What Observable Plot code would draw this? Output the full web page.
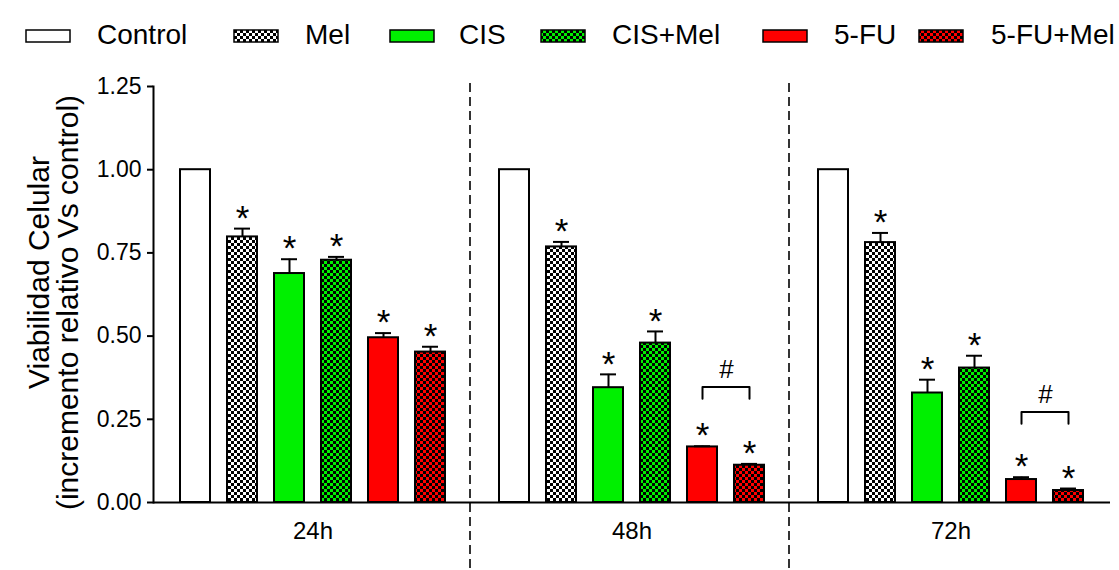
<!DOCTYPE html>
<html><head><meta charset="utf-8">
<script src="https://cdn.jsdelivr.net/npm/d3@7"></script>
<script src="https://cdn.jsdelivr.net/npm/@observablehq/plot@0.6"></script>
<style>
body{margin:0;background:#fff;font-family:"Liberation Sans",Arial,Helvetica,sans-serif;}
#wrap{position:relative;width:1119px;height:570px;overflow:hidden;}
#legend{position:absolute;left:0;top:0;}
#chart{position:absolute;left:0;top:60px;}
#chart svg{overflow:visible;}
</style></head><body>
<svg width="0" height="0" style="position:absolute">
  <defs>
    <pattern id="chkW" width="6" height="6" patternUnits="userSpaceOnUse">
      <rect width="6" height="6" fill="#ffffff"/><rect width="3" height="3" fill="#000"/><rect x="3" y="3" width="3" height="3" fill="#000"/>
    </pattern>
    <pattern id="chkG" width="6" height="6" patternUnits="userSpaceOnUse">
      <rect width="6" height="6" fill="#00f000"/><rect width="3" height="3" fill="#000"/><rect x="3" y="3" width="3" height="3" fill="#000"/>
    </pattern>
    <pattern id="chkR" width="6" height="6" patternUnits="userSpaceOnUse">
      <rect width="6" height="6" fill="#ff0000"/><rect width="3" height="3" fill="#000"/><rect x="3" y="3" width="3" height="3" fill="#000"/>
    </pattern>
  </defs>
</svg>
<div id="wrap"><div id="legend"></div><div id="chart"></div></div>
<script>
// ---- data ----
const times = ["24h", "48h", "72h"];
const groups = ["Control", "Mel", "CIS", "CIS+Mel", "5-FU", "5-FU+Mel"];
const values24 = [1.00, 0.798, 0.688, 0.728, 0.495, 0.452];
const values48 = [1.00, 0.768, 0.345, 0.479, 0.167, 0.112];
const values72 = [1.00, 0.781, 0.329, 0.404, 0.069, 0.036];
const errors24 = [0, 0.025, 0.043, 0.010, 0.014, 0.016];
const errors48 = [0, 0.015, 0.040, 0.035, 0.002, 0.004];
const errors72 = [0, 0.029, 0.040, 0.037, 0.007, 0.006];
const significant = [false, true, true, true, true, true];
const hashTimes = ["48h", "72h"];
const hashPair = ["5-FU", "5-FU+Mel"];
const bracketTop = [0.347, 0.272];
const bracketLeg = [0.312, 0.237];
const yTicks = [0, 0.25, 0.50, 0.75, 1.00, 1.25];
const fills = ["#ffffff", "url(#chkW)", "#00f000", "url(#chkG)", "#ff0000", "url(#chkR)"];
const yTitle = ["Viabilidad Celular", "(incremento relativo Vs control)"];

// ---- build table ----
const valuesByTime = [values24, values48, values72];
const errorsByTime = [errors24, errors48, errors72];
const rows = [];
times.forEach((t, i) => groups.forEach((g, j) => {
  rows.push({time: t, group: g, value: valuesByTime[i][j], hi: valuesByTime[i][j] + errorsByTime[i][j],
             err: errorsByTime[i][j], sig: significant[j]});
}));
const bracketPts = [];
hashTimes.forEach((t, i) => {
  bracketPts.push({time: t, group: hashPair[0], y: bracketLeg[i]});
  bracketPts.push({time: t, group: hashPair[0], y: bracketTop[i]});
  bracketPts.push({time: t, group: hashPair[1], y: bracketTop[i]});
  bracketPts.push({time: t, group: hashPair[1], y: bracketLeg[i]});
});
const hashRows = hashTimes.map((t, i) => ({time: t, group: hashPair[0], y: bracketTop[i]}));
const separators = times.slice(0, -1).map(t => ({time: t}));

const font = "Liberation Sans, Arial, Helvetica, sans-serif";

const plot = Plot.plot({
  width: 1119, height: 510,
  marginLeft: 153, marginRight: 9, marginTop: 26, marginBottom: 68,
  style: {fontFamily: font, background: "transparent", color: "#000"},
  fx: {domain: times, padding: 0, label: null},
  x: {domain: groups, paddingInner: 0.354, paddingOuter: 0.5, axis: null},
  y: {domain: [0, 1.25], axis: null},
  color: {domain: groups, range: fills, type: "ordinal"},
  marks: [
    Plot.axisY({ticks: yTicks, tickFormat: d3.format(".2f"), tickSize: 6, tickPadding: 6,
      fontSize: 23, strokeWidth: 2, label: null}),
    Plot.axisFx({anchor: "bottom", tickSize: 0, tickPadding: 19, fontSize: 24, label: null}),
    Plot.ruleX(separators, {fx: "time", x: () => groups[groups.length - 1], dx: 39.5,
      y1: 1.259, y2: -0.21, stroke: "#333", strokeWidth: 2, strokeDasharray: "9,5"}),
    Plot.barY(rows, {fx: "time", x: "group", y: "value", fill: "group", stroke: "#000", strokeWidth: 2}),
    Plot.ruleX(rows.filter(d => d.err > 0), {fx: "time", x: "group", y1: "value", y2: "hi", strokeWidth: 2}),
    Plot.tickY(rows.filter(d => d.err > 0), {fx: "time", x: "group", y: "hi", strokeWidth: 2, insetLeft: 7, insetRight: 7}),
    Plot.text(rows.filter(d => d.sig), {fx: "time", x: "group", y: "hi", text: () => "*", fontSize: 35, dy: -10}),
    Plot.line(bracketPts, {fx: "time", x: "group", y: "y", z: "time", strokeWidth: 2}),
    Plot.text(hashRows, {fx: "time", x: "group", y: "y", text: () => "#", dx: 24, dy: -17, fontSize: 26}),
    Plot.ruleY([0], {strokeWidth: 2}),
    Plot.frame({anchor: "left", facetAnchor: "left", strokeWidth: 2}),
    Plot.text([yTitle[0]], {fx: () => times[0], text: d => d, frameAnchor: "left", textAnchor: "middle",
      rotate: -90, dx: -114, dy: -22, fontSize: 30}),
    Plot.text([yTitle[1]], {fx: () => times[0], text: d => d, frameAnchor: "left", textAnchor: "middle",
      rotate: -90, dx: -85, dy: 8, fontSize: 30})
  ]
});
document.getElementById("chart").appendChild(plot);

// ---- legend ----
const legendSwatchX = [26, 234, 390, 541, 763, 919];
const legendTextX = [97, 305, 459, 612, 834, 991];
const ns = "http://www.w3.org/2000/svg";
const lg = document.createElementNS(ns, "svg");
lg.setAttribute("width", 1119); lg.setAttribute("height", 60);
lg.setAttribute("font-family", font);
groups.forEach((g, i) => {
  const r = document.createElementNS(ns, "rect");
  r.setAttribute("x", legendSwatchX[i]); r.setAttribute("y", 30);
  r.setAttribute("width", 44); r.setAttribute("height", 12);
  r.setAttribute("fill", fills[i]); r.setAttribute("stroke", "#000"); r.setAttribute("stroke-width", 1.5);
  lg.appendChild(r);
  const t = document.createElementNS(ns, "text");
  t.setAttribute("x", legendTextX[i]); t.setAttribute("y", 44);
  t.setAttribute("font-size", 28); t.textContent = g;
  lg.appendChild(t);
});
document.getElementById("legend").appendChild(lg);
</script>
</body></html>
